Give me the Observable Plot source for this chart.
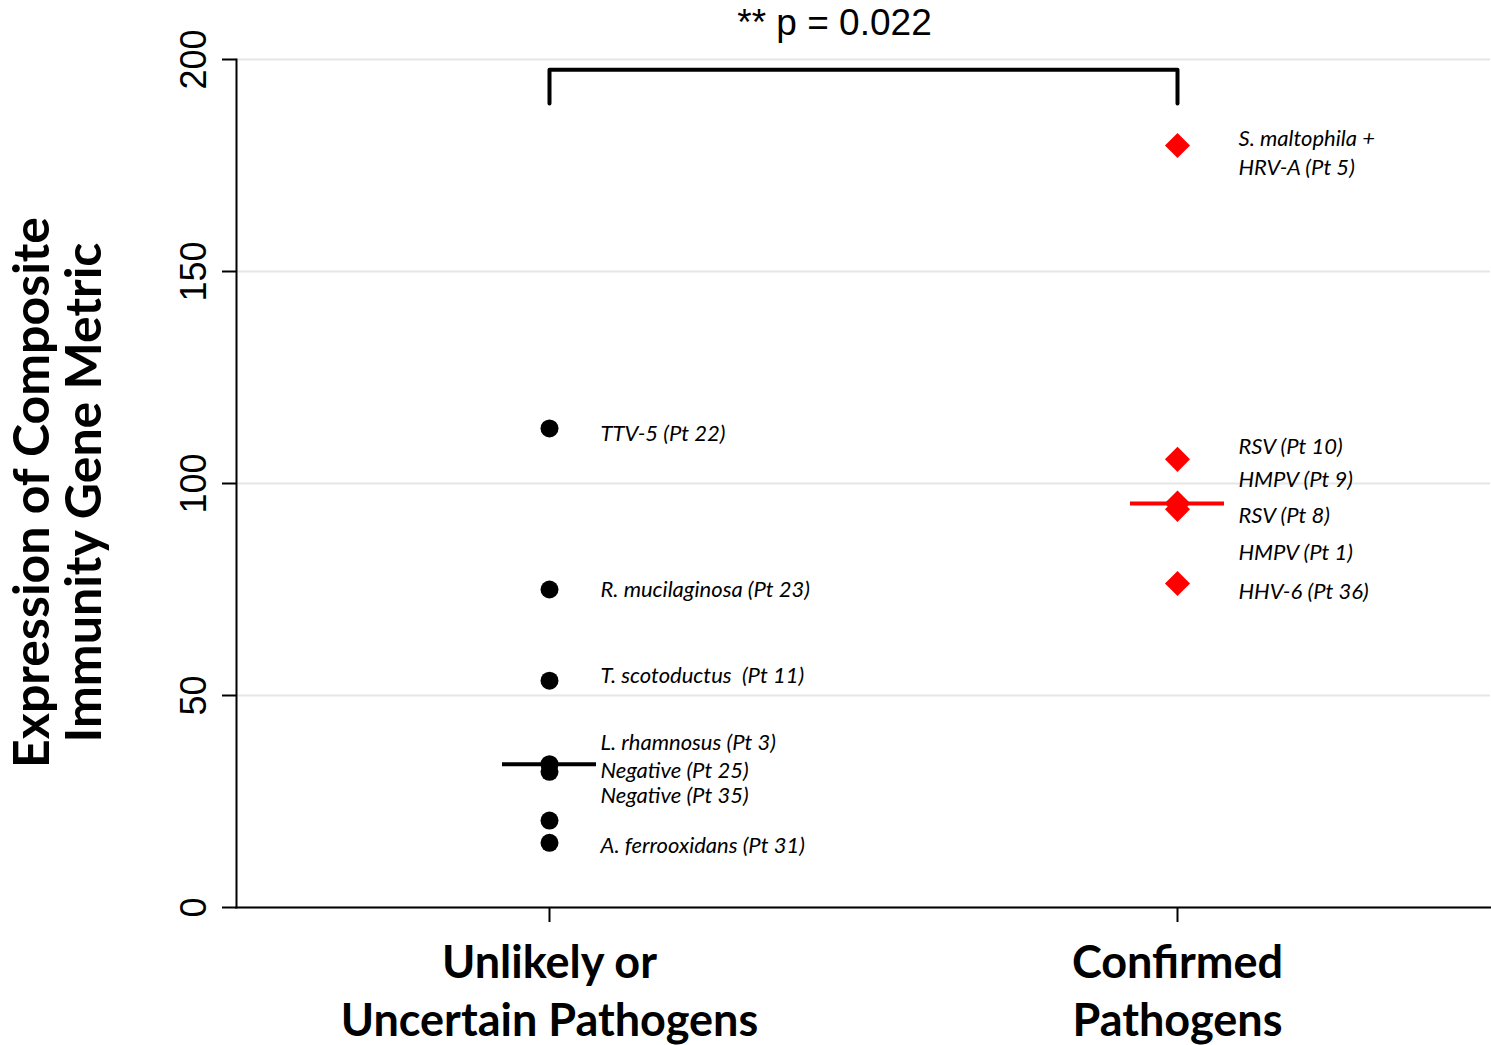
<!DOCTYPE html>
<html><head><meta charset="utf-8">
<script src="https://cdn.jsdelivr.net/npm/d3@7"></script>
<script src="https://cdn.jsdelivr.net/npm/@observablehq/plot@0.6"></script>
<style>body{margin:0;background:#fff} svg{display:block}</style>
</head><body><div id="chart"></div>
<script>
const groups = ["Unlikely or\nUncertain Pathogens", "Confirmed\nPathogens"];
const unlikelyValues = [113.0, 75.0, 53.5, 33.8, 32.0, 20.5, 15.25];
const confirmedValues = [179.7, 105.7, 95.4, 95.2, 93.9, 76.4];
const unlikelyLabels = ["TTV-5 (Pt 22)", "R. mucilaginosa (Pt 23)", "T. scotoductus  (Pt 11)", "L. rhamnosus (Pt 3)", "Negative (Pt 25)", "Negative (Pt 35)", "A. ferrooxidans (Pt 31)"];
const unlikelyLabelY = [111.8, 74.8, 54.5, 38.7, 32.1, 26.2, 14.6];
const confirmedLabels = ["S. maltophila +\nHRV-A (Pt 5)", "RSV (Pt 10)", "HMPV (Pt 9)", "RSV (Pt 8)", "HMPV (Pt 1)", "HHV-6 (Pt 36)"];
const confirmedLabelY = [178.4, 109.0, 101.4, 92.9, 84.2, 75.0];
const yTicks = [0, 50, 100, 150, 200];
const pLabel = "** p = 0.022";
const bracketY = [189.6, 197.6];
const yTitle = "Expression of Composite\nImmunity Gene Metric";

const unlikelyData = unlikelyValues.map(v => ({group: groups[0], value: v}));
const confirmedData = confirmedValues.map(v => ({group: groups[1], value: v}));
const unlikelyLabelData = unlikelyLabels.map((t, i) => ({group: groups[0], y: unlikelyLabelY[i], label: t}));
const confirmedLabelData = confirmedLabels.map((t, i) => ({group: groups[1], y: confirmedLabelY[i], label: t}));
const medians = [
  {group: groups[0], value: d3.median(unlikelyValues), color: "black"},
  {group: groups[1], value: d3.median(confirmedValues), color: "red"}
];
const bracket = [
  {group: groups[0], value: bracketY[0]},
  {group: groups[0], value: bracketY[1]},
  {group: groups[1], value: bracketY[1]},
  {group: groups[1], value: bracketY[0]}
];

const chart = Plot.plot({
  width: 1491, height: 1045,
  marginLeft: 236, marginRight: 1, marginTop: 59, marginBottom: 138,
  x: {type: "band", domain: groups, paddingInner: 0.85, paddingOuter: 0.4234, label: null},
  y: {domain: [0, 200], label: null},
  style: {fontFamily: "Lato", background: "white", overflow: "visible"},
  marks: [
    Plot.gridY(yTicks, {stroke: "#e6e6e6", strokeOpacity: 1, strokeWidth: 2}),
    Plot.axisY({ticks: yTicks, tickSize: 14, tickPadding: 17, tickRotate: -90, fontSize: 36,
      fontFamily: "Liberation Sans", label: null, strokeWidth: 2, color: "black"}),
    Plot.axisX({tickSize: 15, tickPadding: 14, fontSize: 45, fontWeight: "bold", fontFamily: "Lato",
      lineHeight: 1.29, label: null, strokeWidth: 2, color: "black"}),
    Plot.frame({anchor: "left", strokeWidth: 2, stroke: "black"}),
    Plot.frame({anchor: "bottom", strokeWidth: 2, stroke: "black"}),
    Plot.dot(unlikelyData, {x: "group", y: "value", r: 9, fill: "black"}),
    Plot.dot(confirmedData, {x: "group", y: "value", symbol: "diamond2", r: 11.3, fill: "#ff0000"}),
    Plot.tickY(medians, {x: "group", y: "value", stroke: "color", strokeWidth: 4}),
    Plot.line(bracket, {x: "group", y: "value", stroke: "black", strokeWidth: 4}),
    Plot.text([pLabel], {text: d => d, frameAnchor: "top", dy: -51, dx: -29, fontSize: 37,
      fontFamily: "Liberation Sans", fill: "black"}),
    Plot.text([yTitle], {text: d => d, frameAnchor: "left", textAnchor: "middle", rotate: -90,
      dx: -178, dy: 9, fontSize: 50, fontWeight: "bold", lineHeight: 1.04, fill: "black"}),
    Plot.text(unlikelyLabelData, {x: "group", y: "y", text: "label", textAnchor: "start", dx: 51,
      fontSize: 22, fontStyle: "italic", fill: "black"}),
    Plot.text(confirmedLabelData, {x: "group", y: "y", text: "label", textAnchor: "start", dx: 61,
      fontSize: 22, fontStyle: "italic", fill: "black", lineHeight: 1.3})
  ]
});
document.getElementById("chart").appendChild(chart);
</script>
</body></html>
